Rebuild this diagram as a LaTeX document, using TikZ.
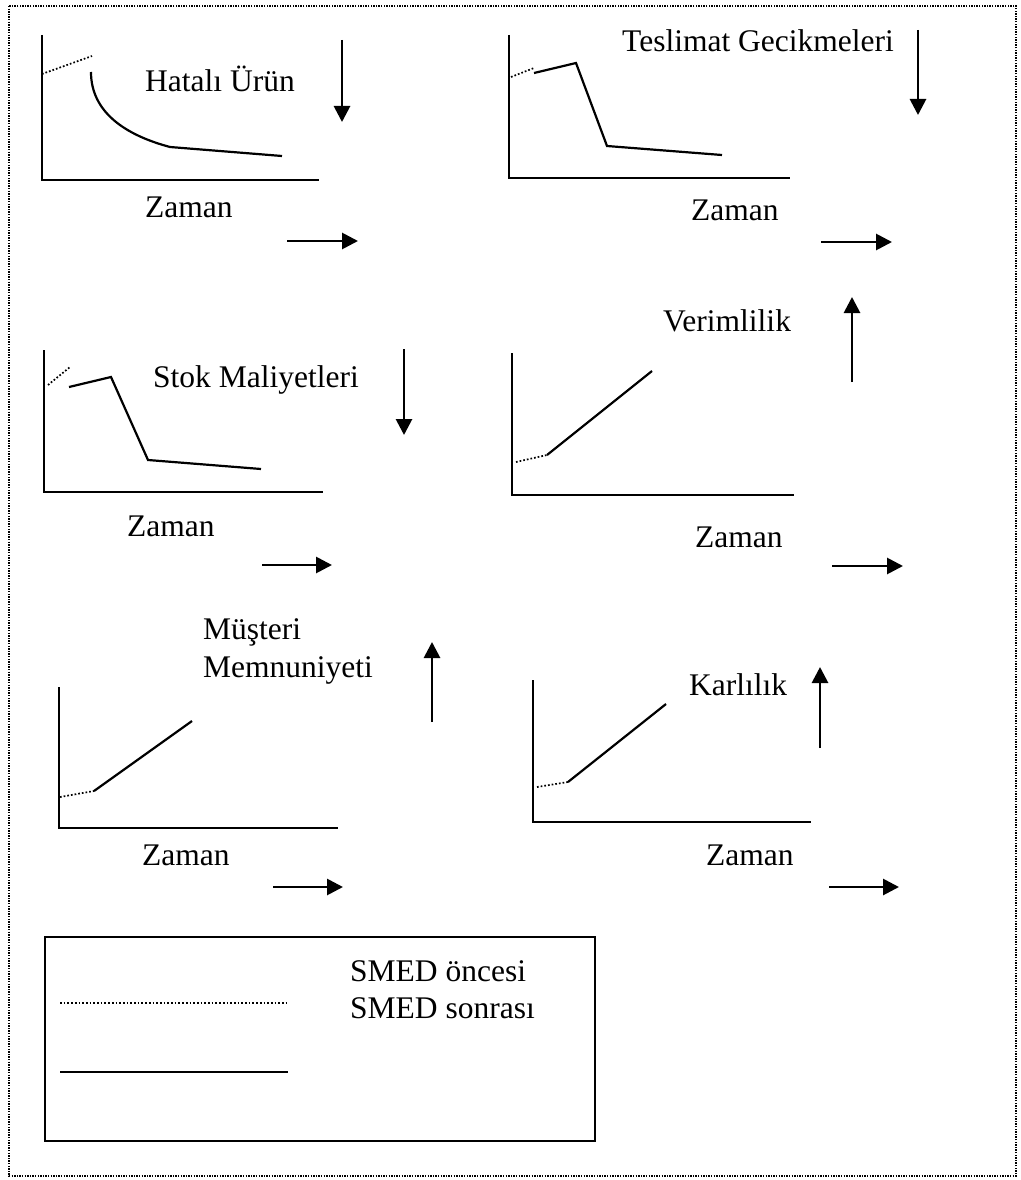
\documentclass[tikz,border=0pt]{standalone}
\usepackage{fontspec}
\setmainfont{Liberation Serif}
\usetikzlibrary{arrows.meta}
\begin{document}
\begin{tikzpicture}[x=1pt,y=-1pt,
  axis/.style={line width=2.4pt,line cap=butt},
  before/.style={line width=1.7pt,dash pattern=on 1.7pt off 2pt},
  after/.style={line width=2.2pt,line join=miter},
  trend/.style={line width=2.8pt,-{Triangle[length=16pt,width=16pt]}},
  lbl/.style={anchor=base west,inner sep=0pt,font=\fontsize{31.5}{37}\selectfont},
  frame/.style={line width=2pt,dash pattern=on 1.4pt off 1.2pt},
  legendbox/.style={line width=2.8pt}]
\useasboundingbox (0,0) rectangle (1020,1180);
\fill[white] (0,0) rectangle (1020,1180);
\draw[frame] (9,6) rectangle (1016,1176);

% Hatalı Ürün
\draw[axis] (42,35) -- (42,180) -- (319,180);
\draw[before] (42,74) -- (92,56);
\draw[after] (91,72) .. controls (91,112) and (125,135) .. (170,147) -- (282,156);
\node[lbl] (t1) at (145,92) {Hatalı Ürün};
\draw[trend] (342,40) -- (342,122);
\node[lbl] (z1) at (145,217) {Zaman};
\draw[trend] (287,241) -- (358,241);

% Teslimat Gecikmeleri
\draw[axis] (509,35) -- (509,178) -- (790,178);
\draw[before] (511,77) -- (534,68);
\draw[after] (534,73) -- (576,63) -- (607,146) -- (722,155);
\node[lbl] (t2) at (622,52) {Teslimat Gecikmeleri};
\draw[trend] (918,30) -- (918,115);
\node[lbl] (z2) at (691,220) {Zaman};
\draw[trend] (821,242) -- (892,242);

% Stok Maliyetleri
\draw[axis] (44,350) -- (44,492) -- (323,492);
\draw[before] (48,385) -- (70,367);
\draw[after] (69,387) -- (111,377) -- (148,460) -- (261,469);
\node[lbl] (t3) at (153,387) {Stok Maliyetleri};
\draw[trend] (404,349) -- (404,435);
\node[lbl] (z3) at (127,536) {Zaman};
\draw[trend] (262,565) -- (332,565);

% Verimlilik
\draw[axis] (512,353) -- (512,495) -- (794,495);
\draw[before] (516,462) -- (547,455);
\draw[after] (547,455) -- (652,371);
\node[lbl] (t4) at (663,331) {Verimlilik};
\draw[trend] (852,382) -- (852,297);
\node[lbl] (z4) at (695,547) {Zaman};
\draw[trend] (832,566) -- (903,566);

% Müşteri Memnuniyeti
\draw[axis] (59,687) -- (59,828) -- (338,828);
\draw[before] (60,797) -- (94,791);
\draw[after] (94,791) -- (192,721);
\node[lbl] (t5a) at (203,639) {Müşteri};
\node[lbl] (t5b) at (203,677) {Memnuniyeti};
\draw[trend] (432,722) -- (432,642);
\node[lbl] (z5) at (142,865) {Zaman};
\draw[trend] (273,887) -- (343,887);

% Karlılık
\draw[axis] (533,680) -- (533,822) -- (811,822);
\draw[before] (537,787) -- (568,782);
\draw[after] (568,782) -- (666,704);
\node[lbl] (t6) at (689,695) {Karlılık};
\draw[trend] (820,748) -- (820,667);
\node[lbl] (z6) at (706,865) {Zaman};
\draw[trend] (829,887) -- (899,887);

% Legend
\draw[legendbox] (45,937) rectangle (595,1141);
\draw[before] (60,1003) -- (288,1003);
\draw[after] (60,1072) -- (288,1072);
\node[lbl] (l1) at (350,981) {SMED öncesi};
\node[lbl] (l2) at (350,1018) {SMED sonrası};
\end{tikzpicture}
\end{document}
